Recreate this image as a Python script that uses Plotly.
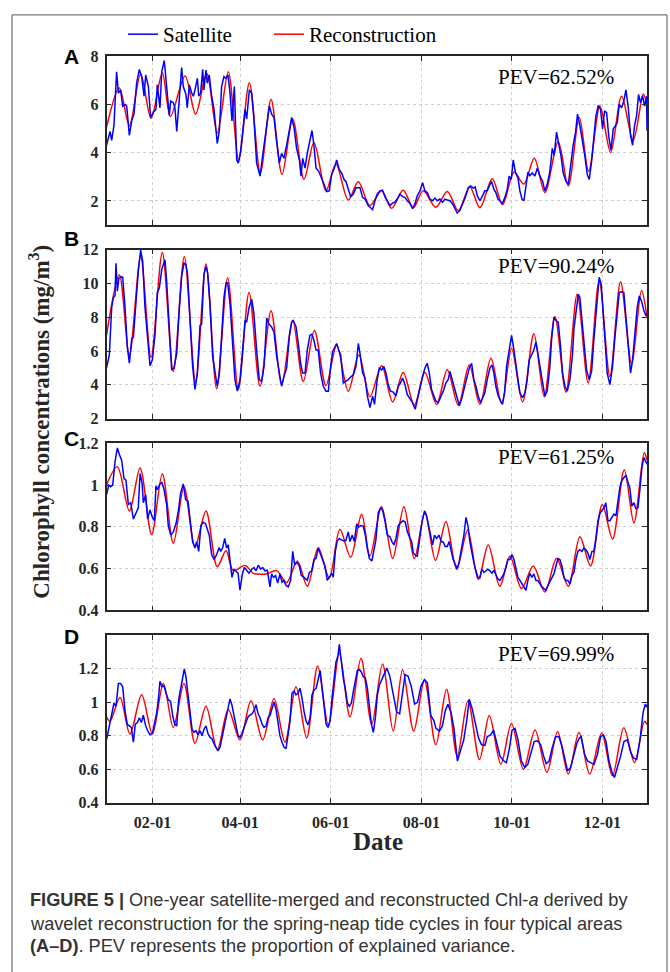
import plotly.graph_objects as go
from datetime import datetime, timedelta

# ---------------- data (day of year offset from 2019-01-01, value in mg/m3) ----------------
A_REC_DAY = [0, 8.6, 15.4, 23, 30, 37.6, 43, 52.9, 60, 67.5, 74.6, 82, 89, 96.2, 103.6, 110.8, 118.2, 125.4, 133, 139.7,
             147.8, 154.5, 162.8, 169.6, 177.4, 185.3, 192, 199.8, 206.6, 213.3, 221.8, 229.5, 236.9, 244.7, 251.5, 259.8,
             266.7, 274.5, 281, 288.1, 295.2, 304.2, 311, 318.4, 324.7, 332.3, 339.5, 346.9, 354.7, 361.5, 364]
A_REC_VAL = [5.05, 6.68, 5.12, 7.26, 5.42, 7.31, 5.5, 7.18, 5.6, 7.28, 4.82, 7.35, 3.7, 6.9, 3.16, 6.2, 3.1, 5.39, 2.9, 4.42,
             2.42, 3.53, 2.04, 2.8, 1.81, 2.42, 1.7, 2.45, 1.72, 2.42, 1.74, 2.39, 1.61, 2.58, 1.72, 2.92,
             1.85, 3.2, 2.7, 3.77, 2.35, 4.45, 2.62, 5.46, 3.23, 5.93, 4.01, 6.34, 4.51, 6.43, 5.93]

A_SAT_DAY = [0, 2.4, 3.5, 5, 6.8, 8, 9.5, 10.9, 12.5, 13.6, 15.4, 17, 18.5, 20.3, 22.1, 23.7, 25.3, 26.4, 28.2, 29.7,
             31.5, 33.3, 34.2, 36, 37.2, 38.9, 40.5, 42.3, 43.2, 45, 46.1, 47.3, 49, 50.6, 51.7, 53.5, 54.4, 55.8, 57.4, 58.5,
             59.6, 61.2, 62.1, 63.4, 64.8, 65.6, 67, 67.9, 69.2, 70.8, 72.4, 74.6, 76, 77.5, 79.1, 80.5, 81.8, 83.2, 84.5, 86.1,
             87.7, 88.8, 90.3, 92.1, 93.3, 94.4, 96.2, 97.8, 99.3, 101.1, 103.4, 105.2, 106.7, 108.3, 109.7, 111.2, 112.8, 114.6, 116.4, 117.9,
             119.5, 121.3, 122.9, 124.7, 126.3, 128, 129.9, 131, 132.1, 133.7, 135.2, 137, 138.4, 139.7, 141.1, 142.9, 144.9, 146.5, 148.3, 150,
             151.6, 153.4, 155, 156.8, 158.4, 160, 161.3, 162.8, 164.4, 166.2, 168, 169.6, 170.7, 172.5, 174.1, 176.3,
             177.4, 179.2, 180.8, 182.3, 184.1, 185.9, 187.5, 189.1, 190.9, 192.7, 194.2, 195.8, 197.6, 199.4, 201, 202.5, 204.3, 206.1, 207.7, 209.3,
             211.1, 212.9, 214.4, 216, 217.8, 219.6, 221.2, 222.7, 224.5, 226.3, 227.9, 229.5, 231.3, 233.1, 234.6, 236.2, 238, 239.8, 241.6, 243.6,
             245.2, 247, 248.3, 249.7, 251.5, 253.3, 254.8, 256.4, 257.8, 259.3, 260.9, 262.2, 263.6, 265, 266.5, 268.3, 269.9, 271.2, 272.6, 273.9,
             275.5, 277.1, 278.4, 279.8, 281.1, 282.5, 283.8, 285.1, 286.7, 288.5, 290.1, 291.9, 293.7, 295.2, 296.8, 298.6, 300.2, 301.5, 303.1, 304.7,
             306, 307.6, 309.4, 311, 312.5, 314.3, 315.9, 317.2, 318.8, 320.4, 322.2, 323.8, 325.1, 326.7, 328.2, 329.6, 331.2, 332.7, 334.1, 335.4,
             336.8, 338.3, 339.7, 341.3, 342.8, 344, 345.3, 346.9, 348.4, 349.8, 351.4, 352.9, 354.3, 355.6, 357, 358.3, 359.7, 361, 362.4, 363.7, 364]
A_SAT_VAL = [4.31, 4.88, 4.51, 5.12, 7.35, 6.47, 6.6, 5.93, 6.0, 5.93, 4.72, 5.32, 5.6, 6.88, 7.45, 7.15, 6.34, 7.22, 6.74, 5.46,
             5.66, 5.8, 6.81, 5.86, 7.35, 7.82, 6.74, 5.53, 6.14, 6.07, 5.86, 4.88, 6.2, 7.53, 6.74, 6.41, 5.86, 6.81, 6.47, 6.34,
             6.6, 7.08, 6.34, 6.47, 7.45, 6.6, 7.42, 6.88, 7.22, 6.34, 5.8, 4.38, 4.92, 6.74, 7.15, 7.08, 7.22, 6.47, 5.32, 6.74,
             3.7, 3.57, 4.04, 5.12, 5.8, 5.39, 6.6, 6.47, 5.39, 3.57, 3.03, 3.9, 4.58, 5.39, 5.93, 5.6, 5.46, 4.45, 3.57, 3.97,
             3.77, 4.31, 4.78, 5.46, 5.05, 4.18, 3.7, 3.03, 3.77, 3.36, 3.97, 4.45, 4.92, 4.31, 3.36, 3.23, 2.96, 2.69, 2.39, 2.42,
             3.09, 3.36, 3.7, 3.3, 3.16, 2.89, 2.8, 2.49, 2.18, 2.28, 2.55, 2.55, 2.55, 2.15, 2.08, 1.81,
             1.74, 1.64, 2.01, 2.28, 2.42, 2.45, 2.18, 2.01, 1.81, 1.91, 1.95, 2.08, 2.28, 2.18, 2.15, 2.01, 1.91, 1.68, 1.88, 2.22,
             2.42, 2.76, 2.42, 2.35, 2.08, 2.01, 2.12, 2.01, 2.08, 1.95, 2.08, 2.04, 2.01, 1.88, 1.68, 1.5, 1.61, 1.88, 2.15, 2.55,
             2.62, 2.53, 2.58, 2.22, 2.01, 2.22, 2.42, 2.42, 2.62, 2.82, 2.49, 2.35, 2.08, 2.01, 1.88, 2.15, 2.49, 3.03, 2.89, 3.7,
             3.16, 2.96, 2.42, 2.08, 2.01, 2.69, 3.2, 3.05, 3.16, 3.03, 3.36, 3.03, 2.82, 2.42, 2.69, 3.23, 4.18, 3.9, 4.85, 4.31,
             3.9, 3.16, 2.82, 2.69, 3.5, 4.31, 4.85, 5.6, 5.12, 4.58, 3.84, 3.09, 2.89, 3.64, 4.58, 5.53, 5.96, 5.8, 4.99, 5.73,
             5.66, 4.65, 4.11, 4.99, 5.12, 5.26, 6.0, 5.86, 6.14, 6.6, 5.86, 4.72, 4.31, 5.12, 5.53, 6.41, 6.07, 6.36, 5.93, 6.34, 4.92]

B_REC_DAY = [0, 8.6, 15.4, 23, 30, 37.6, 45, 52.4, 60, 67, 74.2, 81.6, 88.8, 96, 103.4, 110.8, 118, 125.4, 132.5, 140,
             147.8, 155, 162.8, 170, 177.4, 185.3, 192.7, 199.8, 207.3, 214.4, 222.3, 229.5, 236.9, 244.3, 251.5, 258.9,
             266.1, 272.8, 280.2, 287.8, 294.8, 302, 309.4, 317, 324.4, 331.8, 339, 346.2, 353.6, 360.3, 364]
B_REC_VAL = [6.93, 10.52, 5.77, 11.59, 5.63, 11.83, 4.8, 11.59, 4.21, 11.15, 3.77, 10.33, 3.73, 9.46, 3.92, 8.39, 4.02, 7.81, 4.21, 7.22,
             3.96, 6.35, 3.63, 5.77, 3.3, 5.13, 2.99, 4.74, 2.8, 4.74, 2.85, 4.89, 2.8, 5.18, 2.85, 5.57,
             2.91, 6.16, 2.99, 7.03, 3.3, 8.04, 3.57, 9.36, 4.12, 10.17, 4.5, 10.1, 5.28, 9.59, 8.0]

B_SAT_DAY = [0, 1.9, 3.5, 4.6, 5.7, 6.4, 7.3, 8.4, 9.5, 10.9, 12.5, 14, 15.4, 17, 18.1, 19.9, 21.4, 23, 24.4, 25.9,
             27.7, 29.3, 30.9, 32.7, 34.2, 35.6, 37.2, 38.3, 39.4, 40.5, 42.3, 43.9, 45.4, 47.3, 48.8, 50.6, 52.2, 53.5, 54.6, 56.2,
             58, 59.6, 61.2, 63, 64.1, 65.6, 67, 68.1, 69.7, 71.5, 73, 74.6, 76, 77.5, 79.1, 80.5, 81.6, 83.2, 85, 86.5,
             88.1, 89.9, 91.7, 93.3, 94.4, 96, 97.8, 99.3, 101.1, 102.9, 104.5, 106.1, 107.9, 109.4, 111.2, 112.8, 114.6, 116.4, 117.9, 119.5,
             121.3, 123.1, 124.7, 125.8, 127.6, 129.2, 130.7, 132.1, 133.7, 135.2, 137, 138.4, 139.7, 141.1, 142.6, 144.2, 146, 147.8, 149.4, 150.9,
             152.3, 153.9, 155, 156.4, 157.7, 159.5, 161.3, 162.8, 164.4, 166.2, 168, 169.6, 170.7, 172.5, 174.1, 175.7,
             177.4, 179.2, 180.5, 182.3, 183.7, 185.3, 186.8, 188.2, 189.7, 191.3, 193.1, 194.9, 196.5, 198, 199.4, 201, 202.5, 204.3, 206.1, 207.9,
             209.5, 211.1, 212.9, 214.4, 216, 217.4, 218.9, 220.5, 221.8, 223.4, 225, 226.8, 228.6, 230.1, 231.3, 232.6, 234, 235.8, 237.6, 239.1,
             240.7, 242.5, 244.3, 245.9, 247.4, 248.8, 250.3, 251.9, 253.7, 254.8, 256.4, 258.2, 259.6, 260.9, 262.2, 263.8, 265.4, 266.7, 268.1, 269.4,
             271.2, 272.8, 274.4, 275.5, 277.1, 278.4, 280.2, 281.8, 283.3, 284.7, 286.3, 287.8, 289.2, 290.8, 292.3, 293.7, 295.2, 296.8, 298.6, 299.7,
             301.3, 302.7, 304.2, 305.8, 307.1, 308.7, 310.3, 312.1, 313.9, 314.8, 316.1, 317.7, 318.8, 320.4, 321.7, 323.3, 325.1, 326.7, 328.2, 330,
             331.8, 333.2, 334.5, 335.9, 337.2, 339, 340.8, 342.4, 344, 345.3, 346.9, 348.4, 350.2, 351.6, 352.9, 354.3, 355.9, 357.4, 358.8, 360.3,
             361.9, 363.3, 364]
B_SAT_VAL = [4.99, 5.77, 8.58, 9.17, 9.26, 11.2, 9.55, 10.33, 10.39, 10.37, 8.58, 6.25, 5.28, 6.74, 6.83, 9.07, 10.72, 11.98, 11.3, 8.58,
             6.64, 5.13, 5.48, 7.03, 9.46, 9.75, 10.82, 11.11, 11.4, 10.14, 7.61, 4.89, 4.99, 5.86, 8.19, 10.43, 11.2, 11.11, 10.52, 7.61,
             5.09, 3.73, 4.7, 7.51, 7.61, 10.52, 11.01, 10.62, 8.78, 5.67, 4.7, 3.92, 4.7, 6.64, 9.17, 10.04, 10.04, 8.78, 6.06, 4.31,
             3.63, 4.31, 6.06, 7.81, 7.71, 8.58, 9.07, 8.19, 6.06, 4.31, 4.21, 5.09, 7.96, 7.61, 7.42, 7.13, 5.67, 4.6, 3.92, 4.5,
             4.99, 6.83, 7.71, 7.81, 7.46, 6.45, 5.28, 4.7, 4.7, 6.06, 6.93, 6.99, 6.64, 6.06, 6.06, 4.7, 3.92, 3.63, 3.63, 5.09,
             5.96, 6.25, 6.45, 6.06, 5.77, 4.12, 4.21, 4.31, 4.47, 4.6, 5.09, 6.45, 5.86, 4.7, 4.41, 3.34,
             2.66, 3.34, 2.85, 4.31, 4.99, 4.89, 5.09, 4.7, 4.02, 3.63, 3.57, 3.34, 3.92, 4.12, 4.41, 4.02, 3.44, 3.15, 2.95, 2.56,
             3.24, 3.92, 4.5, 4.99, 5.28, 4.7, 3.73, 3.34, 3.05, 2.95, 3.24, 3.63, 4.12, 4.31, 4.8, 4.31, 3.92, 3.34, 2.76, 3.15,
             3.73, 4.31, 4.99, 5.28, 4.31, 3.92, 3.34, 2.95, 3.34, 3.53, 4.31, 4.99, 5.18, 4.7, 3.92, 3.34, 3.05, 2.85, 3.53, 5.09,
             6.06, 6.93, 6.06, 5.18, 4.31, 3.53, 3.24, 3.53, 4.31, 5.48, 5.77, 6.06, 6.54, 5.67, 4.7, 3.92, 3.34, 3.63, 5.09, 6.64,
             8.0, 7.81, 7.71, 6.25, 4.7, 3.92, 3.63, 4.31, 5.86, 7.32, 8.29, 9.36, 9.17, 7.61, 6.06, 4.89, 4.31, 4.8, 6.64, 8.58,
             10.37, 9.94, 8.19, 5.86, 4.7, 4.02, 5.09, 6.83, 8.58, 9.46, 9.51, 9.46, 7.61, 6.06, 4.7, 5.48, 7.22, 8.58, 9.26, 8.97,
             8.39, 8.1, 8.19]

C_REC_DAY = [0, 7.3, 15.4, 22.6, 30.4, 37.6, 45, 52.2, 59.6, 67, 74.6, 80.5, 85.4, 93.3, 98.9, 104, 108, 114.6, 121.3, 128.5,
             135.2, 142.6, 150, 157.2, 164.4, 171.8, 177.4, 185.3, 192.7, 200.3, 207.3, 214.4, 221.6, 228.6, 235.8, 243.2,
             250.4, 257.1, 264.9, 271.7, 279.5, 287.4, 295.2, 303.1, 311, 318.8, 326, 333.9, 340.8, 348.7, 355.2, 362.1, 364]
C_REC_VAL = [1.0, 1.088, 0.876, 1.082, 0.763, 1.054, 0.721, 0.992, 0.705, 0.876, 0.609, 0.685, 0.59, 0.615, 0.577, 0.572, 0.575, 0.59, 0.532, 0.636,
             0.515, 0.70, 0.555, 0.788, 0.654, 0.86, 0.66, 0.896, 0.648, 0.896, 0.648, 0.865, 0.639, 0.825, 0.597, 0.783,
             0.547, 0.713, 0.515, 0.659, 0.504, 0.612, 0.488, 0.648, 0.515, 0.752, 0.612, 0.907, 0.741, 1.073, 0.819, 1.155, 1.12]

C_SAT_DAY = [0, 1.5, 2.8, 4.2, 5.7, 7.3, 8.6, 10.2, 11.8, 13.1, 14.7, 16.3, 18.1, 19.9, 21.4, 22.6, 24, 24.8, 26.4, 27.7,
             29.3, 30.9, 32.2, 33.3, 34.2, 35.6, 37.2, 38.7, 40.5, 41.6, 43.2, 45, 46.8, 48.4, 49.9, 51.7, 53.3, 54.9, 56.2, 58,
             59.6, 60.7, 62.1, 63.6, 65.2, 66.8, 67.9, 69.2, 70.8, 72.4, 74.2, 75.8, 76.9, 78.2, 79.6, 80.9, 82, 83.2, 84.5, 85.9,
             87.2, 88.6, 89.9, 91.5, 92.8, 94.4, 96, 97.8, 99.3, 100.7, 102.2, 103.8, 105.2, 106.7, 108.3, 110.1, 111.2, 112.4, 113.9, 115.3,
             116.8, 118.2, 119.5, 120.9, 122.4, 124, 125.4, 126.7, 128.5, 129.9, 131.2, 132.5, 133.9, 135.2, 136.6, 138.2, 139.7, 141.1, 142.6, 144.2,
             145.6, 147.1, 148.7, 150, 151.6, 152.7, 154.1, 155.4, 156.8, 158.4, 160, 161.3, 162.8, 164, 165.5, 166.9, 168.5, 169.8, 171.2, 172.9,
             174.3, 175.6, 177, 178.7, 180.1, 181.4, 183, 184.6, 185.9, 187.5, 189.1, 190.9, 192.2, 193.6, 194.9, 196.5, 198, 199.8, 201.2, 202.5,
             203.9, 205.5, 206.6, 207.9, 209.3, 211.1, 212.6, 214.2, 215.6, 216.9, 218.3, 219.6, 220.9, 222.3, 223.9, 225.4, 226.8, 228.1, 229.5, 230.8,
             232.2, 233.5, 234.9, 236.2, 237.6, 239.1, 240.7, 242.1, 243.4, 244.7, 246.1, 247.4, 248.8, 250.1, 251.5, 252.8, 254.2, 255.5, 256.9, 258.2,
             259.6, 260.9, 262.2, 263.6, 265, 266.3, 267.6, 269, 270.3, 271.7, 273, 274.4, 275.7, 277.1, 278.4, 279.8, 281.1, 282.5, 283.8, 285.1,
             286.5, 287.8, 289.2, 290.5, 291.9, 293.2, 294.6, 295.9, 297.3, 298.6, 300, 301.3, 302.7, 304, 305.3, 306.7, 308, 309.4, 310.7, 312.1,
             313.4, 314.8, 316.1, 317.5, 318.8, 320.2, 321.5, 322.9, 324.2, 325.5, 326.9, 328.2, 329.6, 331, 332.3, 333.6, 335, 336.3, 337.7, 339,
             340.4, 341.7, 343.1, 344.4, 345.8, 347.1, 348.4, 349.8, 351.1, 352.5, 353.8, 355.2, 356.5, 357.9, 359.2, 360.6, 361.9, 363.3, 364]
C_SAT_VAL = [0.953, 1.0, 0.992, 1.0, 1.109, 1.178, 1.147, 1.119, 1.031, 1.023, 0.907, 0.915, 0.837, 0.868, 0.891, 1.054, 1.008, 0.915, 0.953, 0.837,
             0.881, 0.845, 0.829, 0.995, 0.977, 1.0, 1.015, 0.98, 0.907, 0.806, 0.76, 0.775, 0.814, 0.876, 0.961, 1.005, 0.93, 0.922, 0.837, 0.729,
             0.698, 0.729, 0.682, 0.806, 0.822, 0.814, 0.788, 0.76, 0.667, 0.643, 0.667, 0.70, 0.682, 0.698, 0.744, 0.698, 0.713, 0.651, 0.558, 0.597,
             0.589, 0.577, 0.496, 0.574, 0.605, 0.589, 0.577, 0.597, 0.605, 0.589, 0.616, 0.597, 0.605, 0.589, 0.592, 0.512, 0.574, 0.558, 0.566, 0.53,
             0.574, 0.535, 0.543, 0.519, 0.512, 0.543, 0.682, 0.62, 0.628, 0.612, 0.566, 0.561, 0.55, 0.543, 0.581, 0.589, 0.643, 0.648, 0.698, 0.667,
             0.643, 0.612, 0.543, 0.558, 0.577, 0.558, 0.682, 0.732, 0.744, 0.736, 0.732, 0.736, 0.775, 0.729, 0.76, 0.729, 0.814, 0.798, 0.806, 0.803,
             0.76, 0.698, 0.648, 0.636, 0.69, 0.736, 0.868, 0.891, 0.88, 0.829, 0.76, 0.752, 0.729, 0.713, 0.744, 0.806, 0.819, 0.829, 0.822, 0.778,
             0.752, 0.729, 0.674, 0.664, 0.659, 0.76, 0.829, 0.876, 0.853, 0.806, 0.752, 0.713, 0.76, 0.744, 0.76, 0.729, 0.726, 0.705, 0.705, 0.729,
             0.682, 0.643, 0.62, 0.597, 0.636, 0.698, 0.76, 0.845, 0.806, 0.729, 0.674, 0.628, 0.589, 0.558, 0.555, 0.597, 0.581, 0.589, 0.597, 0.589,
             0.577, 0.592, 0.574, 0.55, 0.543, 0.558, 0.574, 0.605, 0.643, 0.643, 0.667, 0.643, 0.605, 0.558, 0.543, 0.527, 0.515, 0.496, 0.543, 0.577,
             0.558, 0.574, 0.543, 0.543, 0.527, 0.512, 0.504, 0.496, 0.519, 0.535, 0.558, 0.574, 0.612, 0.648, 0.643, 0.612, 0.558, 0.543, 0.543, 0.527,
             0.566, 0.581, 0.643, 0.682, 0.69, 0.682, 0.698, 0.69, 0.674, 0.643, 0.682, 0.682, 0.744, 0.829, 0.865, 0.876, 0.891, 0.915, 0.829, 0.829,
             0.845, 0.861, 0.853, 0.93, 0.992, 1.023, 1.036, 1.047, 1.015, 0.984, 0.899, 0.915, 0.887, 0.891, 0.977, 1.085, 1.132, 1.109, 1.1]

D_REC_DAY = [0, 2.4, 9.1, 15.8, 23.7, 30.9, 38.3, 45, 52.2, 59.6, 67, 74.6, 82, 89.9, 97.3, 105.2, 112.8, 120.2, 127.6, 134.8,
             142.2, 149.4, 156.8, 164, 171.4, 178.6, 185.9, 193.1, 199.4, 206.9, 214.1, 221.8, 229, 236.2, 243.4, 251.2,
             257.8, 265.6, 272.7, 280.8, 288.6, 296.6, 303.8, 311, 318.2, 325.4, 333.5, 340.7, 348.4, 355.6, 362.2, 364]
D_REC_VAL = [0.911, 0.887, 1.027, 0.81, 1.043, 0.81, 1.111, 0.849, 1.111, 0.755, 0.975, 0.717, 0.955, 0.775, 1.008, 0.775, 1.019, 0.761, 1.091, 0.786,
             1.214, 0.864, 1.291, 0.911, 1.26, 0.868, 1.227, 0.827, 1.192, 0.827, 1.13, 0.746, 1.076, 0.678, 1.008, 0.658,
             0.92, 0.629, 0.872, 0.6, 0.833, 0.581, 0.823, 0.571, 0.819, 0.571, 0.814, 0.561, 0.847, 0.639, 0.885, 0.866]

D_SAT_DAY = [0, 1.9, 3.5, 5, 6.4, 8, 9.5, 10.9, 12.5, 14, 15.4, 16.7, 18.1, 19.4, 20.8, 22.1, 23.5, 24.8, 26.2, 27.7,
             29.3, 30.9, 32.2, 33.8, 34.9, 36, 37.4, 38.7, 40.1, 41.6, 43.2, 44.6, 46, 47.3, 48.6, 50, 51.3, 52.4, 53.5, 54.9,
             56.2, 57.6, 58.9, 60.3, 61.6, 63, 64.3, 65.7, 67, 68.4, 69.7, 71.1, 72.4, 73.8, 75.1, 76.5, 77.8, 79.2, 80.5, 81.8,
             83.2, 84.5, 85.9, 87.2, 88.6, 89.9, 91.3, 92.6, 94, 95.3, 96.6, 98, 99.4, 100.7, 102.1, 103.4, 104.8, 106.1, 107.5, 108.8,
             110.2, 111.5, 112.8, 114.2, 115.5, 116.8, 118.2, 119.5, 120.9, 122.2, 123.6, 124.9, 126.3, 127.6, 129, 130.3, 131.7, 133, 134.4, 135.7,
             137.1, 138.4, 139.8, 141.2, 142.5, 143.9, 145.2, 146.5, 147.9, 149.2, 150.5, 151.9, 153.2, 154.5, 155.9, 156.8, 158.1, 159.5, 160.8, 162.2,
             163.5, 164.9, 166.2, 167.6, 168.9, 170.3, 171.6, 173, 174.3, 175.7, 177, 178.4, 179.7, 181.1, 182.4, 183.8, 185.9, 188.8, 190.8, 193.1,
             195.4, 197.4, 199.4, 201.1, 203.1, 205.2, 207.5, 209.5, 211.8, 214.1, 216.1, 218.4, 220.4, 221.9, 224.2, 226.2, 228.2, 229.9, 232, 234,
             236.3, 238.3, 240.6, 242.6, 244.3, 246.3, 248.3, 250.6, 252.6, 254.9, 256.4, 258.7, 260.7, 262.7, 265, 267.3, 269.3, 271.4, 273.1, 275.1,
             277.1, 279.4, 281.7, 283.7, 285.7, 288, 290.3, 292.4, 294.4, 296.1, 298.1, 300.1, 302.4, 304.7, 306.8, 308.8, 310.5, 312.5, 314.5, 316.8,
             318.3, 319.7, 322, 324, 326, 328.3, 330.6, 332.7, 334.7, 336.4, 338.4, 340.4, 342.1, 344.2, 346.2, 348.5, 350.8, 352.8, 354.8, 357.1,
             359.4, 361.4, 362.9, 364]
D_SAT_VAL = [0.775, 0.868, 0.926, 0.994, 0.975, 1.111, 1.111, 1.091, 0.946, 0.868, 0.858, 0.849, 0.761, 0.868, 0.878, 0.907, 0.878, 0.922, 0.864, 0.829,
             0.806, 0.814, 0.868, 0.936, 1.014, 1.124, 1.091, 1.097, 1.052, 1.014, 1.004, 0.917, 0.868, 0.858, 1.014, 1.085, 1.159, 1.198, 1.15, 1.043,
             0.936, 0.839, 0.819, 0.829, 0.806, 0.829, 0.8, 0.839, 0.858, 0.81, 0.79, 0.781, 0.751, 0.732, 0.709, 0.732, 0.79, 0.849, 0.911, 0.975,
             1.019, 0.981, 0.922, 0.849, 0.8, 0.79, 0.814, 0.849, 0.887, 0.911, 0.922, 0.93, 0.95, 0.984, 0.93, 0.907, 0.868, 0.849, 0.858, 0.907,
             0.922, 0.955, 1.0, 0.955, 0.868, 0.8, 0.761, 0.732, 0.722, 0.79, 0.887, 1.052, 1.066, 1.043, 1.052, 1.082, 1.023, 0.946, 0.887, 0.864,
             0.907, 1.043, 1.072, 1.082, 1.14, 1.188, 1.082, 0.965, 0.868, 0.849, 0.887, 1.023, 1.14, 1.237, 1.276, 1.344, 1.247, 1.14, 1.082, 0.994,
             0.975, 0.994, 1.062, 1.14, 1.188, 1.194, 1.179, 1.15, 1.144, 1.082, 0.965, 0.868, 0.819, 0.907, 1.043, 1.101, 1.144, 1.202, 1.153, 1.037,
             0.94, 0.93, 1.076, 1.163, 1.153, 1.095, 0.988, 0.998, 1.095, 1.134, 1.115, 0.92, 0.891, 0.843, 0.827, 0.858, 0.95, 0.986, 0.94, 0.843,
             0.649, 0.707, 0.775, 0.891, 1.017, 0.959, 0.872, 0.784, 0.746, 0.742, 0.794, 0.804, 0.833, 0.765, 0.678, 0.652, 0.639, 0.726, 0.833, 0.843,
             0.775, 0.649, 0.61, 0.629, 0.697, 0.765, 0.769, 0.746, 0.678, 0.633, 0.649, 0.726, 0.794, 0.794, 0.736, 0.658, 0.59, 0.61, 0.678, 0.755,
             0.784, 0.794, 0.687, 0.649, 0.639, 0.629, 0.687, 0.794, 0.804, 0.765, 0.649, 0.581, 0.551, 0.61, 0.678, 0.765, 0.775, 0.707, 0.668, 0.658,
             0.784, 0.94, 0.988, 0.969]

PANEL_LABELS = ["A", "B", "C", "D"]
PEV_TEXT = ["PEV=62.52%", "PEV=90.24%", "PEV=61.25%", "PEV=69.99%"]
Y_RANGES = [[1, 8], [2, 12], [0.4, 1.2], [0.4, 1.4]]
Y_TICKS = [[2, 4, 6, 8], [2, 4, 6, 8, 10, 12], [0.4, 0.6, 0.8, 1, 1.2], [0.4, 0.6, 0.8, 1, 1.2]]
Y_TICKTEXT = [["2", "4", "6", "8"], ["2", "4", "6", "8", "10", "12"],
              ["0.4", "0.6", "0.8", "1", "1.2"], ["0.4", "0.6", "0.8", "1", "1.2"]]
X_TICK_DATES = ["2019-02-01", "2019-04-01", "2019-06-01", "2019-08-01", "2019-10-01", "2019-12-01"]
X_TICK_TEXT = ["02-01", "04-01", "06-01", "08-01", "10-01", "12-01"]

SERIES = [
    (A_SAT_DAY, A_SAT_VAL, A_REC_DAY, A_REC_VAL),
    (B_SAT_DAY, B_SAT_VAL, B_REC_DAY, B_REC_VAL),
    (C_SAT_DAY, C_SAT_VAL, C_REC_DAY, C_REC_VAL),
    (D_SAT_DAY, D_SAT_VAL, D_REC_DAY, D_REC_VAL),
]

# ---------------- layout geometry (pixels) ----------------
W, H = 670, 972
BASE = datetime(2019, 1, 1)


def to_dates(days):
    return [BASE + timedelta(days=d) for d in days]


def px(x):
    return x / W


def py(y):
    return 1 - y / H


PLOT_X = (106.5, 647)
PLOT_Y = [(49, 221), (246, 418), (443, 613), (638, 809)]
PEV_Y = [70, 263, 457, 658]
LABEL_Y = [49, 235, 438, 640]

SERIF = "Liberation Serif"
AXIS_COLOR = "#262626"
LEGEND_FONT = dict(family=SERIF, size=21, color="black")

fig = go.Figure()
layout = dict(
    width=W, height=H,
    margin=dict(l=0, r=0, t=0, b=0),
    paper_bgcolor="white", plot_bgcolor="white",
    showlegend=True,
    legend=dict(orientation="h", x=px(123), y=py(27), xanchor="left", yanchor="middle",
                font=LEGEND_FONT, bgcolor="rgba(0,0,0,0)", itemwidth=30),
    legend2=dict(orientation="h", x=px(269), y=py(27), xanchor="left", yanchor="middle",
                 font=LEGEND_FONT, bgcolor="rgba(0,0,0,0)", itemwidth=30),
    annotations=[], shapes=[],
)

for i in range(4):
    n = i + 1
    xk = "x" if n == 1 else f"x{n}"
    yk = "y" if n == 1 else f"y{n}"
    sat_d, sat_v, rec_d, rec_v = SERIES[i]
    fig.add_trace(go.Scatter(
        x=to_dates(rec_d), y=rec_v, xaxis=xk, yaxis=yk, mode="lines",
        line=dict(color="#ff0000", width=1.5, shape="spline", smoothing=0.9),
        name="Reconstruction", showlegend=(n == 1), legend="legend2", hoverinfo="skip"))
    fig.add_trace(go.Scatter(
        x=to_dates(sat_d), y=sat_v, xaxis=xk, yaxis=yk, mode="lines",
        line=dict(color="#0000ff", width=1.5),
        name="Satellite", showlegend=(n == 1), legend="legend", hoverinfo="skip"))

    y0, y1 = PLOT_Y[i]
    common = dict(showline=True, linecolor=AXIS_COLOR, linewidth=1.5, mirror="ticks",
                  ticks="inside", ticklen=5, tickwidth=1.3, tickcolor=AXIS_COLOR,
                  showgrid=True, gridcolor="#cfcfcf", gridwidth=1, griddash="dot",
                  zeroline=False,
                  tickfont=dict(family=SERIF, size=16, color=AXIS_COLOR, weight="bold"))
    layout["xaxis" if n == 1 else f"xaxis{n}"] = dict(
        common, domain=[px(PLOT_X[0]), px(PLOT_X[1])], anchor=yk, type="date",
        range=["2019-01-01", "2019-12-31"], tickvals=X_TICK_DATES, ticktext=X_TICK_TEXT,
        showticklabels=(n == 4), ticklabelstandoff=4)
    layout["yaxis" if n == 1 else f"yaxis{n}"] = dict(
        common, domain=[py(y1), py(y0)], anchor=xk, range=Y_RANGES[i],
        tickvals=Y_TICKS[i], ticktext=Y_TICKTEXT[i], ticklabelstandoff=3)

    layout["annotations"].append(dict(
        text=f"<b>{PANEL_LABELS[i]}</b>", x=px(71), y=py(LABEL_Y[i]), xref="paper", yref="paper",
        showarrow=False, xanchor="center", yanchor="middle",
        font=dict(family="Liberation Sans", size=21, color="black")))
    layout["annotations"].append(dict(
        text=PEV_TEXT[i], x=px(616), y=py(PEV_Y[i]), xref="paper", yref="paper",
        showarrow=False, xanchor="right", yanchor="middle",
        font=dict(family=SERIF, size=21, color="black")))

layout["annotations"].append(dict(
    text="<b>Chlorophyll concentrations (mg/m<sup>3</sup>)</b>", x=px(40), y=py(421),
    xref="paper", yref="paper", showarrow=False, textangle=-90, xanchor="center", yanchor="middle",
    font=dict(family=SERIF, size=23, color=AXIS_COLOR)))
layout["annotations"].append(dict(
    text="<b>Date</b>", x=px(378), y=py(848), xref="paper", yref="paper", showarrow=False,
    xanchor="center", yanchor="middle", font=dict(family=SERIF, size=25, color=AXIS_COLOR)))

CAPTION = [
    "<b>FIGURE 5 |</b> One-year satellite-merged and reconstructed Chl-<i>a</i> derived by",
    "wavelet reconstruction for the spring-neap tide cycles in four typical areas",
    "<b>(A–D)</b>. PEV represents the proportion of explained variance.",
]
CAPTION_Y = [908, 932, 955]
for line, yy in zip(CAPTION, CAPTION_Y):
    layout["annotations"].append(dict(
        text=line, x=px(28), y=py(yy), xref="paper", yref="paper", showarrow=False,
        xanchor="left", yanchor="middle",
        font=dict(family="Liberation Sans", size=18.2, color="#333333")))

layout["shapes"].append(dict(
    type="rect", xref="paper", yref="paper", x0=px(12), x1=px(667), y0=py(1000), y1=py(7),
    line=dict(color="#555555", width=1), fillcolor="rgba(0,0,0,0)", layer="below"))

fig.update_layout(**layout)
fig.write_html("out.html")
